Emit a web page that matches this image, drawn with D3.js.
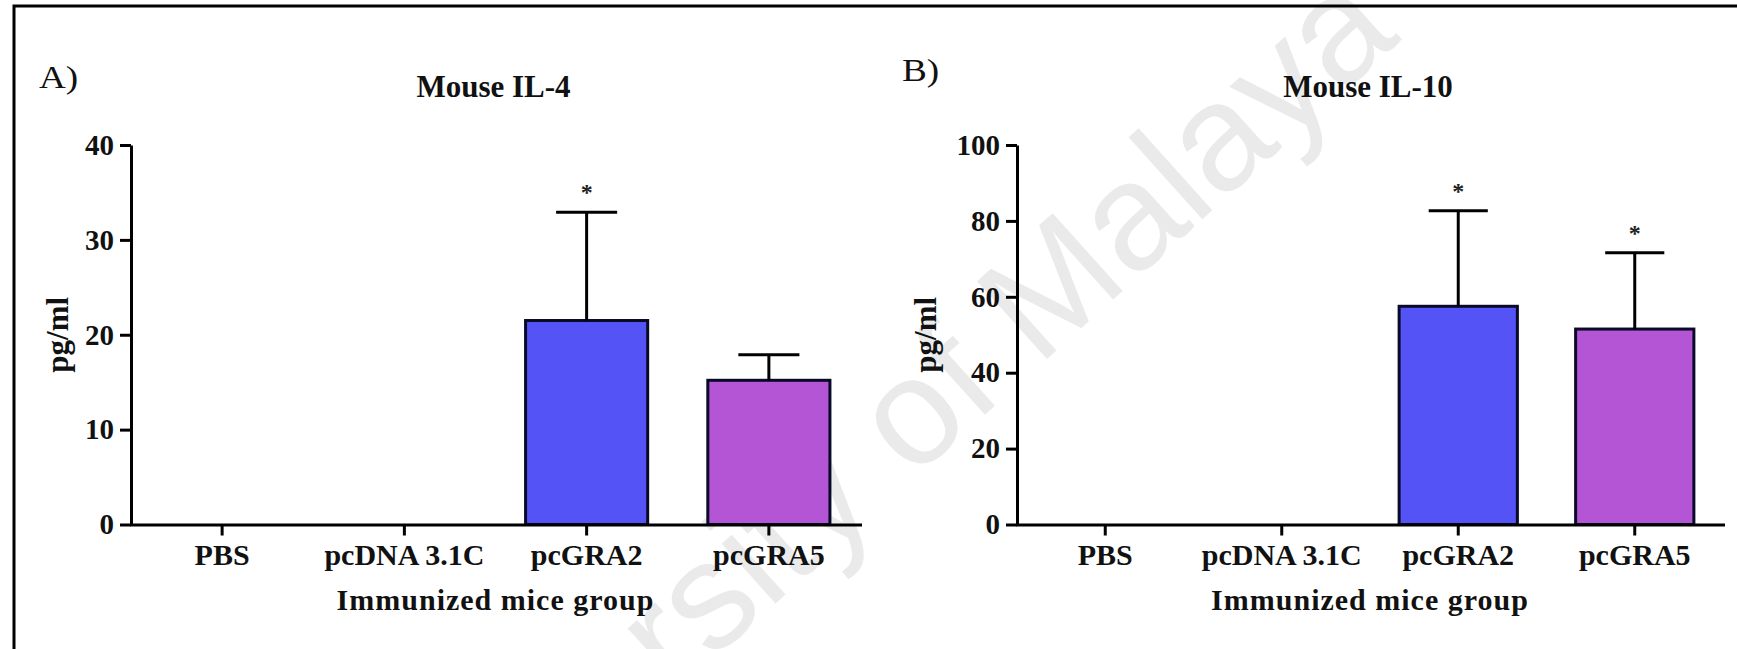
<!DOCTYPE html>
<html>
<head>
<meta charset="utf-8">
<script src="https://cdn.jsdelivr.net/npm/d3@7"></script>
<style>
  html, body { margin: 0; padding: 0; background: #ffffff; }
  svg { display: block; }
</style>
</head>
<body>
<svg id="chart" width="1737" height="649"></svg>
<script>
// Groups of immunized mice
const groups = ["PBS", "pcDNA 3.1C", "pcGRA2", "pcGRA5"];

// IL-4 (pg/ml): mean, SD, significance
const il4Mean = [0, 0, 21.5, 15.2];
const il4Sd = [0, 0, 11.4, 2.7];
const il4Sig = [false, false, true, false];
const il4Ticks = [0, 10, 20, 30, 40];

// IL-10 (pg/ml): mean, SD, significance
const il10Mean = [0, 0, 57.5, 51.5];
const il10Sd = [0, 0, 25.2, 20.1];
const il10Sig = [false, false, true, true];
const il10Ticks = [0, 20, 40, 60, 80, 100];

const barFill = ["#ffffff", "#ffffff", "#5353f6", "#b455d5"];

const svg = d3.select("#chart");
const serif = "'Liberation Serif', 'Times New Roman', serif";

// Background watermark
svg.append("text")
  .attr("transform", "translate(385,955) rotate(-42)")
  .attr("font-family", "'Liberation Sans', Arial, sans-serif")
  .attr("font-size", 152)
  .attr("fill", "#eaeaea")
  .text("University of Malaya");

// Frame (top and left edges)
svg.append("path")
  .attr("d", "M14,649 L14,6 L1737,6")
  .attr("fill", "none")
  .attr("stroke", "#000")
  .attr("stroke-width", 3);

const panels = [
  { tag: "A)", tagX: 39, tagY: 88, title: "Mouse IL-4", mean: il4Mean, sd: il4Sd, sig: il4Sig,
    ticks: il4Ticks, x0: 131, x1: 860, yLabX: 57 },
  { tag: "B)", tagX: 902, tagY: 81, title: "Mouse IL-10", mean: il10Mean, sd: il10Sd, sig: il10Sig,
    ticks: il10Ticks, x0: 1017, x1: 1723, yLabX: 925 }
];

const yTop = 145, yBottom = 524.5;

panels.forEach(p => {
  const g = svg.append("g");
  const x = d3.scaleBand().domain(groups).range([p.x0, p.x1])
    .paddingInner(0.33).paddingOuter(0.165);
  const y = d3.scaleLinear().domain([0, d3.max(p.ticks)]).range([yBottom, yTop]);

  // Panel tag
  g.append("text")
    .attr("transform", `translate(${p.tagX},${p.tagY}) scale(1.2,1)`)
    .attr("font-family", serif).attr("font-size", 31)
    .attr("fill", "#111")
    .text(p.tag);

  // Title
  g.append("text")
    .attr("x", (p.x0 + p.x1) / 2 - 2).attr("y", 97)
    .attr("text-anchor", "middle")
    .attr("font-family", serif).attr("font-size", 31).attr("font-weight", "bold")
    .attr("fill", "#111")
    .text(p.title);

  // Bars
  const rows = groups.map((name, i) => ({ name, v: p.mean[i], e: p.sd[i], s: p.sig[i], fill: barFill[i] }))
    .filter(d => d.v > 0);

  g.selectAll("rect.bar").data(rows).join("rect")
    .attr("class", "bar")
    .attr("x", d => x(d.name))
    .attr("width", x.bandwidth())
    .attr("y", d => y(d.v))
    .attr("height", d => y(0) - y(d.v))
    .attr("fill", d => d.fill)
    .attr("stroke", "#0a0a28")
    .attr("stroke-width", 3);

  // Error bars (upper)
  const capHalf = x.bandwidth() * 0.25;
  const eb = g.selectAll("g.err").data(rows).join("g").attr("class", "err");
  eb.append("line")
    .attr("x1", d => x(d.name) + x.bandwidth() / 2)
    .attr("x2", d => x(d.name) + x.bandwidth() / 2)
    .attr("y1", d => y(d.v))
    .attr("y2", d => y(d.v + d.e))
    .attr("stroke", "#000").attr("stroke-width", 3);
  eb.append("line")
    .attr("x1", d => x(d.name) + x.bandwidth() / 2 - capHalf)
    .attr("x2", d => x(d.name) + x.bandwidth() / 2 + capHalf)
    .attr("y1", d => y(d.v + d.e))
    .attr("y2", d => y(d.v + d.e))
    .attr("stroke", "#000").attr("stroke-width", 3);

  // Significance marks
  g.selectAll("text.sig").data(rows.filter(d => d.s)).join("text")
    .attr("class", "sig")
    .attr("x", d => x(d.name) + x.bandwidth() / 2)
    .attr("y", d => y(d.v + d.e) - 12)
    .attr("text-anchor", "middle")
    .attr("font-family", serif).attr("font-size", 24).attr("font-weight", "bold")
    .attr("fill", "#222")
    .text("*");

  // Y axis
  const ya = g.append("g")
    .attr("transform", `translate(${p.x0},0)`)
    .call(d3.axisLeft(y).tickValues(p.ticks).tickFormat(d3.format("d"))
      .tickSize(11).tickSizeOuter(0).tickPadding(6));
  ya.select(".domain").attr("stroke-width", 3);
  ya.selectAll(".tick line").attr("stroke-width", 3);
  ya.selectAll(".tick text")
    .attr("font-family", serif).attr("font-size", 29).attr("font-weight", "bold").attr("fill", "#111");

  // X axis
  const xa = g.append("g")
    .attr("transform", `translate(0,${yBottom})`)
    .call(d3.axisBottom(x).tickSize(11).tickSizeOuter(0).tickPadding(8));
  xa.select(".domain").attr("stroke-width", 3).attr("stroke-linecap", "square");
  xa.selectAll(".tick line").attr("stroke-width", 3);
  xa.selectAll(".tick text")
    .attr("font-family", serif).attr("font-size", 30).attr("font-weight", "bold").attr("fill", "#111");

  // Axis titles
  g.append("text")
    .attr("x", (p.x0 + p.x1) / 2).attr("y", 610)
    .attr("text-anchor", "middle")
    .attr("font-family", serif).attr("font-size", 30).attr("font-weight", "bold")
    .attr("letter-spacing", 1)
    .attr("fill", "#111")
    .text("Immunized mice group");

  g.append("text")
    .attr("transform", `translate(${p.yLabX},${(yTop + yBottom) / 2}) rotate(-90)`)
    .attr("text-anchor", "middle")
    .attr("dominant-baseline", "central")
    .attr("font-family", serif).attr("font-size", 31).attr("font-weight", "bold")
    .attr("fill", "#111")
    .text("pg/ml");
});
</script>
</body>
</html>
